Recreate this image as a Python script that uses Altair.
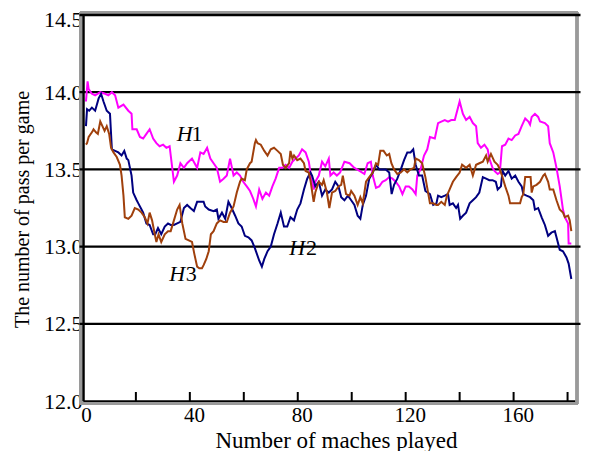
import altair as alt
import pandas as pd

# ---- data (x = matches played, y = passes per game) ----
H1 = [(0, 13.94), (0.6, 14.07), (1.0, 14.02), (2.2, 13.99), (3.4, 13.98), (5.3, 14.0), (7.1, 13.99), (8.3, 13.98),
      (9.6, 14.0), (10.8, 13.98), (12.0, 13.90), (13.9, 13.92), (15.7, 13.88), (16.9, 13.86), (17.2, 13.76),
      (18.8, 13.76), (20.0, 13.71), (21.2, 13.70), (22.4, 13.73), (23.6, 13.76), (24.9, 13.70), (26.1, 13.67),
      (27.3, 13.65), (28.6, 13.66), (29.8, 13.64), (31.0, 13.65), (32.6, 13.42), (33.8, 13.46), (35.0, 13.54),
      (36.3, 13.51), (37.5, 13.54), (39.3, 13.57), (41.2, 13.51), (42.4, 13.61), (43.6, 13.60), (44.9, 13.64),
      (46.1, 13.57), (47.3, 13.54), (48.5, 13.51), (49.7, 13.42), (51.0, 13.44), (52.2, 13.46), (53.4, 13.57),
      (54.7, 13.46), (55.9, 13.48), (57.1, 13.46), (58.3, 13.42), (59.6, 13.39), (60.8, 13.36), (62.0, 13.31),
      (63.0, 13.26), (64.2, 13.37), (65.4, 13.31), (66.7, 13.35), (67.9, 13.33), (69.1, 13.39), (70.3, 13.44),
      (71.6, 13.51), (72.8, 13.51), (74.0, 13.53), (75.3, 13.51), (76.5, 13.55), (77.7, 13.57), (78.9, 13.59),
      (80.1, 13.63), (81.4, 13.61), (82.6, 13.55), (83.2, 13.48), (83.8, 13.42), (84.4, 13.37), (85.0, 13.42),
      (86.3, 13.46), (87.5, 13.55), (88.7, 13.52), (90.0, 13.57), (90.6, 13.46), (91.8, 13.48), (93.0, 13.46),
      (94.2, 13.48), (95.8, 13.55), (97.7, 13.54), (99.5, 13.51), (101.4, 13.49), (103.2, 13.47), (104.4, 13.54),
      (105.6, 13.55), (106.3, 13.46), (107.5, 13.38), (108.7, 13.39), (109.9, 13.42), (111.1, 13.43),
      (112.4, 13.45), (113.6, 13.44), (114.8, 13.42), (116.1, 13.39), (117.3, 13.34), (118.5, 13.39),
      (119.7, 13.39), (121.0, 13.37), (122.2, 13.34), (122.8, 13.46), (124.0, 13.50), (125.3, 13.59),
      (126.5, 13.63), (127.5, 13.71), (129.3, 13.70), (130.5, 13.80), (131.7, 13.81), (133.0, 13.82),
      (134.2, 13.81), (135.4, 13.82), (136.7, 13.82), (137.3, 13.86), (138.5, 13.94), (139.7, 13.86),
      (140.9, 13.82), (142.2, 13.84), (143.4, 13.80), (144.6, 13.78), (145.2, 13.67), (146.4, 13.64),
      (147.7, 13.66), (148.9, 13.63), (149.5, 13.57), (150.7, 13.51), (151.4, 13.49), (152.6, 13.47),
      (153.4, 13.48), (154.2, 13.65), (155.4, 13.66), (156.6, 13.70), (157.8, 13.69), (159.1, 13.72),
      (160.3, 13.73), (161.5, 13.78), (162.8, 13.83), (164.0, 13.81), (164.6, 13.79), (165.2, 13.84),
      (166.4, 13.86), (167.6, 13.84), (168.3, 13.81), (170.1, 13.80), (171.3, 13.78), (171.9, 13.67),
      (173.2, 13.61), (174.4, 13.51), (175.6, 13.39), (176.8, 13.24), (177.5, 13.19), (178.7, 13.15),
      (178.9, 13.02), (179.9, 13.02)]

H2 = [(0, 13.78), (0.4, 13.89), (1.2, 13.88), (2.2, 13.90), (3.4, 13.88), (4.7, 13.96), (5.6, 13.99), (6.5, 13.94),
      (7.7, 13.88), (8.9, 13.86), (9.6, 13.63), (10.8, 13.62), (12.0, 13.61), (13.2, 13.59), (14.2, 13.62),
      (15.1, 13.57), (15.7, 13.56), (16.9, 13.46), (17.5, 13.35), (18.8, 13.30), (19.4, 13.28), (20.3, 13.25),
      (21.2, 13.22), (22.4, 13.15), (23.6, 13.14), (24.9, 13.08), (25.7, 13.08), (26.7, 13.12), (27.9, 13.08),
      (29.2, 13.13), (30.4, 13.15), (31.4, 13.14), (32.6, 13.14), (33.8, 13.15), (35.0, 13.16), (36.3, 13.25),
      (37.5, 13.27), (38.7, 13.25), (40.0, 13.23), (41.2, 13.29), (42.4, 13.29), (43.6, 13.29), (44.2, 13.26),
      (45.5, 13.24), (47.3, 13.23), (48.5, 13.24), (49.1, 13.18), (50.4, 13.22), (51.6, 13.18), (52.8, 13.29),
      (54.0, 13.25), (55.3, 13.20), (56.5, 13.15), (57.7, 13.13), (58.9, 13.07), (60.2, 13.06), (61.4, 13.04),
      (62.6, 12.99), (64.2, 12.91), (65.2, 12.87), (66.1, 12.92), (67.3, 12.97), (68.5, 13.00), (69.7, 13.08),
      (71.0, 13.15), (72.2, 13.22), (73.4, 13.13), (74.6, 13.13), (75.8, 13.19), (77.1, 13.17), (78.3, 13.24),
      (79.5, 13.28), (80.8, 13.37), (82.0, 13.44), (83.2, 13.48), (83.8, 13.46), (85.0, 13.39), (86.3, 13.42),
      (87.5, 13.33), (88.7, 13.37), (90.0, 13.35), (91.2, 13.37), (92.4, 13.42), (93.6, 13.39), (94.6, 13.32),
      (95.8, 13.30), (97.1, 13.33), (98.3, 13.30), (99.5, 13.27), (100.7, 13.20), (101.7, 13.18),
      (102.6, 13.27), (103.8, 13.33), (105.0, 13.44), (106.3, 13.48), (107.5, 13.53), (108.7, 13.50),
      (109.9, 13.50), (111.1, 13.50), (112.4, 13.48), (113.3, 13.34), (114.2, 13.40), (115.4, 13.44),
      (116.7, 13.50), (117.9, 13.56), (119.1, 13.61), (120.3, 13.61), (121.3, 13.63), (122.2, 13.53),
      (123.4, 13.46), (124.6, 13.46), (125.8, 13.36), (127.5, 13.34), (128.7, 13.27), (129.9, 13.28),
      (130.5, 13.33), (131.7, 13.32), (133.0, 13.33), (134.2, 13.34), (134.8, 13.27), (136.0, 13.28),
      (137.2, 13.25), (137.9, 13.27), (138.7, 13.18), (139.7, 13.20), (140.9, 13.22), (142.2, 13.28),
      (143.4, 13.30), (144.6, 13.32), (145.8, 13.35), (147.1, 13.45), (148.3, 13.44), (149.5, 13.43),
      (150.7, 13.43), (151.9, 13.42), (152.6, 13.37), (153.8, 13.39), (154.4, 13.49), (155.4, 13.46),
      (156.6, 13.49), (157.8, 13.44), (159.1, 13.46), (160.3, 13.42), (161.5, 13.39), (162.1, 13.34),
      (163.3, 13.33), (164.6, 13.32), (165.8, 13.30), (166.4, 13.24), (167.6, 13.25), (168.9, 13.19),
      (170.1, 13.14), (171.3, 13.07), (172.5, 13.09), (173.8, 13.10), (174.4, 13.06), (175.6, 12.98),
      (176.8, 12.97), (178.1, 12.93), (178.9, 12.89), (179.9, 12.79)]

H3 = [(0, 13.66), (0.4, 13.67), (1.0, 13.71), (2.2, 13.74), (2.8, 13.76), (3.7, 13.74), (4.4, 13.73), (5.3, 13.81),
      (6.1, 13.78), (6.9, 13.75), (7.7, 13.78), (8.6, 13.73), (9.3, 13.64), (10.2, 13.61), (11.4, 13.58),
      (12.6, 13.53), (13.2, 13.46), (13.9, 13.33), (14.4, 13.19), (15.7, 13.18), (16.9, 13.20), (18.1, 13.25),
      (19.4, 13.24), (20.6, 13.22), (21.8, 13.19), (22.8, 13.15), (23.6, 13.22), (24.5, 13.17), (25.5, 13.08),
      (26.1, 13.03), (26.9, 13.08), (27.9, 13.03), (29.2, 13.08), (30.4, 13.10), (31.4, 13.10), (32.6, 13.17),
      (33.8, 13.24), (34.7, 13.27), (35.7, 13.15), (36.9, 13.05), (38.1, 13.04), (39.3, 13.03), (40.2, 12.95),
      (41.2, 12.87), (42.0, 12.86), (43.0, 12.86), (43.6, 12.88), (44.6, 12.92), (45.5, 12.97), (46.3, 13.08),
      (47.3, 13.10), (48.5, 13.15), (49.7, 13.17), (51.0, 13.16), (52.2, 13.16), (53.4, 13.22), (54.7, 13.26),
      (55.9, 13.35), (57.1, 13.42), (57.7, 13.44), (58.9, 13.43), (59.6, 13.50), (60.8, 13.54), (61.4, 13.55),
      (62.6, 13.67), (63.0, 13.69), (63.6, 13.67), (64.8, 13.66), (66.1, 13.62), (67.3, 13.59), (68.5, 13.63),
      (69.7, 13.64), (71.0, 13.62), (72.2, 13.60), (73.0, 13.53), (74.0, 13.51), (75.3, 13.54), (75.8, 13.62),
      (76.5, 13.57), (77.1, 13.59), (78.3, 13.56), (79.5, 13.57), (80.8, 13.54), (81.4, 13.49), (82.6, 13.48),
      (83.2, 13.43), (83.8, 13.36), (84.4, 13.29), (85.0, 13.35), (86.3, 13.42), (87.5, 13.40), (88.1, 13.43),
      (89.3, 13.35), (90.2, 13.25), (91.2, 13.35), (92.4, 13.36), (93.6, 13.39), (94.6, 13.40), (95.2, 13.46),
      (95.8, 13.40), (96.4, 13.34), (97.7, 13.33), (98.3, 13.36), (99.5, 13.33), (100.7, 13.27), (101.7, 13.32),
      (102.6, 13.28), (103.8, 13.42), (105.0, 13.45), (106.3, 13.48), (107.5, 13.54), (108.3, 13.53),
      (109.1, 13.62), (110.3, 13.62), (111.5, 13.59), (112.4, 13.60), (113.2, 13.54), (114.2, 13.50),
      (115.4, 13.47), (116.7, 13.48), (117.9, 13.50), (119.1, 13.48), (120.3, 13.50), (121.6, 13.51),
      (122.2, 13.57), (123.4, 13.56), (124.6, 13.54), (125.8, 13.45), (127.5, 13.28), (128.7, 13.28),
      (129.9, 13.27), (130.5, 13.27), (131.7, 13.29), (133.0, 13.27), (133.8, 13.33), (134.8, 13.37),
      (136.0, 13.42), (137.2, 13.45), (138.5, 13.48), (139.4, 13.53), (140.9, 13.51), (142.2, 13.53),
      (143.4, 13.46), (144.6, 13.53), (145.8, 13.54), (147.1, 13.55), (148.3, 13.59), (148.9, 13.55),
      (150.1, 13.60), (151.4, 13.55), (152.6, 13.53), (153.4, 13.50), (154.2, 13.46), (155.4, 13.39),
      (156.6, 13.33), (157.2, 13.28), (159.1, 13.28), (160.9, 13.28), (161.5, 13.32), (162.1, 13.34),
      (162.8, 13.45), (164.8, 13.45), (165.2, 13.35), (165.8, 13.39), (167.0, 13.40), (168.3, 13.42),
      (169.5, 13.46), (170.1, 13.47), (171.3, 13.42), (171.9, 13.37), (173.2, 13.37), (174.4, 13.30),
      (175.6, 13.24), (176.8, 13.22), (177.5, 13.19), (178.7, 13.20), (179.3, 13.17), (179.9, 13.10)]

SERIES = ["H1", "H2", "H3"]
COLORS = ["#FF00FF", "#000080", "#A0400C"]
X_LABELS = [0, 40, 80, 120, 160]
X_MINOR_TICKS = [18.5, 38.5, 58.5, 78.5, 98.5, 118.5, 138.5, 158.5, 178.5]
Y_TICKS = [12.0, 12.5, 13.0, 13.5, 14.0, 14.5]
# annotation labels: italic letter + upright digit
LABEL_LETTERS = [("H", 36.6, 13.73), ("H", 78.3, 12.99), ("H", 33.8, 12.82)]
LABEL_DIGITS = [("1", 41.2, 13.73), ("2", 83.6, 12.99), ("3", 39.0, 12.82)]

FONT = "Liberation Serif"
W, H = 494, 386

rows = []
for name, pts in zip(SERIES, [H1, H2, H3]):
    for i, (x, y) in enumerate(pts):
        rows.append({"series": name, "x": x, "y": y, "i": i})
df = pd.DataFrame(rows)

xscale = alt.Scale(domain=[-1.1, 182], nice=False, zero=False)
yscale = alt.Scale(domain=[12.0, 14.5], nice=False, zero=False)

lines = alt.Chart(df).mark_line(strokeWidth=2).encode(
    x=alt.X("x:Q", scale=xscale, axis=alt.Axis(
        values=X_LABELS, format="d", ticks=False, tickSize=0, grid=False,
        domainColor="black", domainWidth=2.5,
        labelFont=FONT, labelFontSize=21, labelColor="black", labelPadding=3,
        title="Number of maches played", titleFont=FONT, titleFontSize=23,
        titleFontWeight="normal", titleColor="black", titleX=253, titleY=28)),
    y=alt.Y("y:Q", scale=yscale, axis=alt.Axis(
        values=Y_TICKS, format=".1f", grid=False, ticks=False, tickSize=4,
        domainColor="black", domainWidth=2.5,
        labelFont=FONT, labelFontSize=22, labelColor="black", labelPadding=1,
        labelOffset=alt.condition("datum.value == 14.5", alt.value(4), alt.value(0)),
        title="The number of pass per game", titleFont=FONT, titleFontSize=20,
        titleFontWeight="normal", titleColor="black", titleX=-51, titleY=194)),
    color=alt.Color("series:N", scale=alt.Scale(domain=SERIES, range=COLORS), legend=None),
    order="i:Q",
)

grid_df = pd.DataFrame({"y": Y_TICKS[1:]})
grid = alt.Chart(grid_df).mark_rule(color="black", strokeWidth=2.3).encode(
    y=alt.Y("y:Q", scale=yscale), x=alt.value(-3.5), x2=alt.value(W + 3.5))

ticks_df = pd.DataFrame({"x": X_MINOR_TICKS})
minor = alt.Chart(ticks_df).mark_rule(color="black", strokeWidth=2).encode(
    x=alt.X("x:Q", scale=xscale), y=alt.value(H), y2=alt.value(H - 9))

gray = "#9a9a9a"
frame_left = alt.Chart(ticks_df).mark_rule(color=gray, strokeWidth=2.5).encode(
    x=alt.value(-2.6), y=alt.value(-3), y2=alt.value(H + 3))
frame_top = alt.Chart(ticks_df).mark_rule(color=gray, strokeWidth=2.5).encode(
    x=alt.value(-3), x2=alt.value(W + 1), y=alt.value(-2.4))
frame_right = alt.Chart(ticks_df).mark_rule(color=gray, strokeWidth=2.5).encode(
    x=alt.value(W), y=alt.value(-3), y2=alt.value(H + 3))
frame_bottom = alt.Chart(ticks_df).mark_rule(color=gray, strokeWidth=2.5).encode(
    x=alt.value(-3), x2=alt.value(W + 1), y=alt.value(H + 2.6))

letters = pd.DataFrame(LABEL_LETTERS, columns=["t", "x", "y"])
digits = pd.DataFrame(LABEL_DIGITS, columns=["t", "x", "y"])
txt_h = alt.Chart(letters).mark_text(font=FONT, fontSize=22, fontStyle="italic", color="black").encode(
    x=alt.X("x:Q", scale=xscale), y=alt.Y("y:Q", scale=yscale), text="t:N")
txt_d = alt.Chart(digits).mark_text(font=FONT, fontSize=22, color="black").encode(
    x=alt.X("x:Q", scale=xscale), y=alt.Y("y:Q", scale=yscale), text="t:N")

chart = alt.layer(frame_left, frame_top, frame_right, frame_bottom, grid, lines, minor, txt_h, txt_d).properties(
    width=W, height=H,
    autosize=alt.AutoSizeParams(type="none"),
    padding={"left": 75, "top": 7, "right": 4, "bottom": 50},
).configure_view(stroke=None).configure(background="white")

chart.save("out.html", embed_options={"renderer": "svg", "actions": False})
